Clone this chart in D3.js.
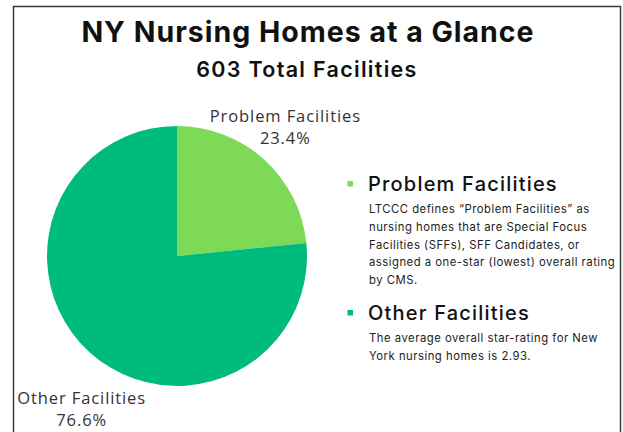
<!DOCTYPE html>
<html>
<head>
<meta charset="utf-8">
<script src="https://cdn.jsdelivr.net/npm/d3@7"></script>
<style>
  html, body { margin: 0; padding: 0; background: #fff; }
  svg { display: block; }
</style>
</head>
<body>
<div id="container"></div>
<script>
const width = 623;
const height = 432;

// data
const title = 'NY Nursing Homes at a Glance';
const subtitle = '603 Total Facilities';
const categories = ['Problem Facilities', 'Other Facilities'];
const shares = [23.4, 76.6];
const notes = [
    ['LTCCC defines \u201CProblem Facilities\u201D as',
     'nursing homes that are Special Focus',
     'Facilities (SFFs), SFF Candidates, or',
     'assigned a one-star (lowest) overall rating',
     'by CMS.'],
    ['The average overall star-rating for New',
     'York nursing homes is 2.93.']
];

const svg = d3.select('#container').append('svg')
    .attr('width', width)
    .attr('height', height);

// frame
svg.append('rect')
    .attr('x', 13.5)
    .attr('y', 6.5)
    .attr('width', 607)
    .attr('height', 440)
    .attr('fill', 'none')
    .attr('stroke', '#3a3a3a')
    .attr('stroke-width', 1.5);

const headFont = 'Inter, "Noto Sans", sans-serif';

svg.append('text')
    .attr('x', 308)
    .attr('y', 42)
    .attr('text-anchor', 'middle')
    .attr('font-family', headFont)
    .attr('font-weight', 700)
    .attr('font-size', 28.5)
    .attr('letter-spacing', 1.0)
    .attr('fill', '#111')
    .text(title);

svg.append('text')
    .attr('x', 307)
    .attr('y', 76.5)
    .attr('text-anchor', 'middle')
    .attr('font-family', headFont)
    .attr('font-weight', 600)
    .attr('font-size', 21.5)
    .attr('letter-spacing', 1.3)
    .attr('fill', '#111')
    .text(subtitle);

const color = d3.scaleOrdinal()
    .domain(categories)
    .range(['#7ed957', '#00bb7e']);

const radius = 130;
const cx = 177;
const cy = 256;

const pie = d3.pie().sort(null).value(d => d.value);
const arcs = pie(categories.map((c, i) => ({ name: c, value: shares[i] })));

const arc = d3.arc().innerRadius(0).outerRadius(radius);
const labelArc = d3.arc().innerRadius(radius * 1.3).outerRadius(radius * 1.3);

const g = svg.append('g').attr('transform', `translate(${cx},${cy})`);

g.selectAll('path')
    .data(arcs)
    .join('path')
    .attr('d', arc)
    .attr('fill', d => color(d.data.name));

// labels outside the pie; the lower one is pushed down clear of the pie
const nudge = [[-5, -4], [18, 28]];
const labels = g.selectAll('text.slice-label')
    .data(arcs)
    .join('text')
    .attr('class', 'slice-label')
    .attr('text-anchor', 'middle')
    .attr('font-family', '"Open Sans", sans-serif')
    .attr('font-size', 16.5)
    .attr('letter-spacing', 0.9)
    .attr('fill', '#333')
    .attr('transform', (d, i) => {
        const [x, y] = labelArc.centroid(d);
        return `translate(${x + nudge[i][0]},${y + nudge[i][1]})`;
    });

labels.append('tspan')
    .attr('x', 0)
    .attr('y', -5)
    .text(d => d.data.name);
labels.append('tspan')
    .attr('x', 0)
    .attr('y', 17)
    .text(d => d.data.value.toFixed(1) + '%');

// legend
const legendX = 347;
const legendTop = [191, 320];
const lineH = 17.8;

const legend = svg.selectAll('g.legend')
    .data(categories)
    .join('g')
    .attr('class', 'legend')
    .attr('transform', (d, i) => `translate(${legendX},${legendTop[i]})`);

legend.append('rect')
    .attr('x', 0.5)
    .attr('y', -10)
    .attr('width', 5.5)
    .attr('height', 5.5)
    .attr('fill', d => color(d));

legend.append('text')
    .attr('x', 21)
    .attr('y', 0)
    .attr('font-family', headFont)
    .attr('font-weight', 500)
    .attr('font-size', 20)
    .attr('letter-spacing', 1.2)
    .attr('fill', '#111')
    .text(d => d);

legend.each(function (d, i) {
    d3.select(this).selectAll('text.note')
        .data(notes[i])
        .join('text')
        .attr('class', 'note')
        .attr('x', 22)
        .attr('y', (t, j) => 22 + j * lineH)
        .attr('font-family', headFont)
        .attr('font-size', 11.3)
        .attr('letter-spacing', 0.5)
        .attr('fill', '#222')
        .text(t => t);
});
</script>
</body>
</html>
